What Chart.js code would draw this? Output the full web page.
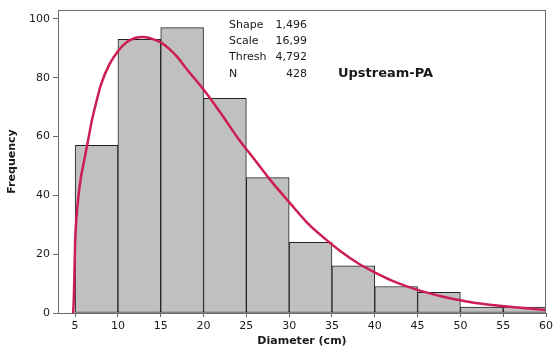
<!DOCTYPE html>
<html>
<head>
<meta charset="utf-8">
<script src="https://cdn.jsdelivr.net/npm/chart.js@4/dist/chart.umd.min.js"></script>
<style>
  html, body { margin: 0; padding: 0; background: #fff; }
  #wrap { width: 556px; height: 348px; }
</style>
</head>
<body>
<div id="wrap"><canvas id="myChart" width="556" height="348"></canvas></div>
<script>
// histogram bins (centres) and counts
const binCentres = [7.5, 12.5, 17.5, 22.5, 27.5, 32.5, 37.5, 42.5, 47.5, 52.5, 57.5]
const counts = [57, 93, 97, 73, 46, 24, 16, 9, 7, 2, 2]

// fitted curve
const curveX = [4.77, 4.85, 4.93, 5.0, 5.15, 5.4, 5.7, 6.0, 6.5, 7, 7.5, 8, 9, 10, 11, 12, 13, 14, 15, 16, 17, 18, 20, 22, 24, 26, 28, 30, 32, 34, 36, 38, 40, 42, 44, 46, 48, 50, 52, 54, 56, 58, 60]
const curveY = [0, 5, 15, 24, 32, 40, 46.5, 51, 58.5, 66, 72, 77.5, 84.5, 89, 92, 93.5, 93.8, 93.2, 92, 89.8, 86.8, 83, 76, 68, 59.5, 52, 44.5, 37.7, 31, 25.7, 21, 17, 13.8, 11, 8.8, 7, 5.5, 4.3, 3.3, 2.6, 2, 1.5, 1.05]

const xTicks = [5, 10, 15, 20, 25, 30, 35, 40, 45, 50, 55, 60]
const yTicks = [0, 20, 40, 60, 80, 100]

const statLabels = ["Shape", "Scale", "Thresh", "N"]
const statValues = ["1,496", "16,99", "4,792", "428"]
const groupName = "Upstream-PA"

const fontFam = "'DejaVu Sans', Verdana, sans-serif"
const axisCol = "#6b6b6b"
const textCol = "#1a1a1a"

// stats text + frame
const extras = {
    id: "extras",
    afterDraw(chart) {
        const ctx = chart.ctx
        const a = chart.chartArea
        ctx.save()
        ctx.strokeStyle = axisCol
        ctx.lineWidth = 1
        ctx.strokeRect(Math.round(a.left) + 0.5, Math.round(a.top) + 0.5, Math.round(a.right - a.left) - 1, Math.round(a.bottom - a.top))
        ctx.fillStyle = textCol
        ctx.font = "11px " + fontFam
        ctx.textBaseline = "middle"
        const rows = [25, 41.5, 57.5, 74]
        for (let i = 0; i < statLabels.length; i++) {
            ctx.textAlign = "left"
            ctx.fillText(statLabels[i], 229, rows[i])
            ctx.textAlign = "right"
            ctx.fillText(statValues[i], 307, rows[i])
        }
        ctx.font = "bold 13px " + fontFam
        ctx.textAlign = "left"
        ctx.fillText(groupName, 338, 74)
        ctx.restore()
    }
}

const data = {
    datasets: [
        {
            type: "line",
            label: "fit",
            order: 0,
            data: curveX.map((x, i) => ({x: x, y: curveY[i]})),
            borderColor: "rgb(205, 30, 82)",
            borderWidth: 2.5,
            pointRadius: 0,
            cubicInterpolationMode: "monotone",
            fill: false
        },
        {
            type: "bar",
            label: "counts",
            order: 1,
            data: binCentres.map((x, i) => ({x: x, y: counts[i]})),
            backgroundColor: "rgb(192, 192, 192)",
            borderColor: "#222",
            borderWidth: 1,
            borderSkipped: false,
            barPercentage: 1,
            categoryPercentage: 1
        }
    ]
}

const config = {
    type: "bar",
    data: data,
    options: {
        responsive: false,
        animation: false,
        layout: {padding: {left: 0, right: 5, top: 10, bottom: 0}},
        plugins: {legend: {display: false}, tooltip: {enabled: false}},
        scales: {
            x: {
                type: "linear",
                offset: false,
                min: 3,
                max: 60,
                afterBuildTicks: s => { s.ticks = xTicks.map(v => ({value: v})) },
                afterFit: s => { s.height = 35 },
                grid: {drawOnChartArea: false, drawTicks: true, tickLength: 4, color: axisCol, offset: false},
                border: {display: true, color: axisCol},
                ticks: {padding: 3, color: textCol, font: {family: fontFam, size: 11}, maxRotation: 0, autoSkip: false},
                title: {display: true, text: "Diameter (cm)", color: textCol, font: {family: fontFam, size: 11, weight: "bold"}, padding: {top: 0, bottom: 0}}
            },
            y: {
                min: 0,
                max: 103,
                afterBuildTicks: s => { s.ticks = yTicks.map(v => ({value: v})) },
                afterFit: s => { s.width = 58 },
                grid: {drawOnChartArea: false, drawTicks: true, tickLength: 5, color: axisCol},
                border: {display: true, color: axisCol},
                ticks: {padding: 3, color: textCol, font: {family: fontFam, size: 11}},
                title: {display: true, text: "Frequency", color: textCol, font: {family: fontFam, size: 11, weight: "bold"}, padding: {top: 6, bottom: 0}}
            }
        }
    },
    plugins: [extras]
}

const mychart = new Chart(document.getElementById("myChart"), config)
</script>
</body>
</html>
